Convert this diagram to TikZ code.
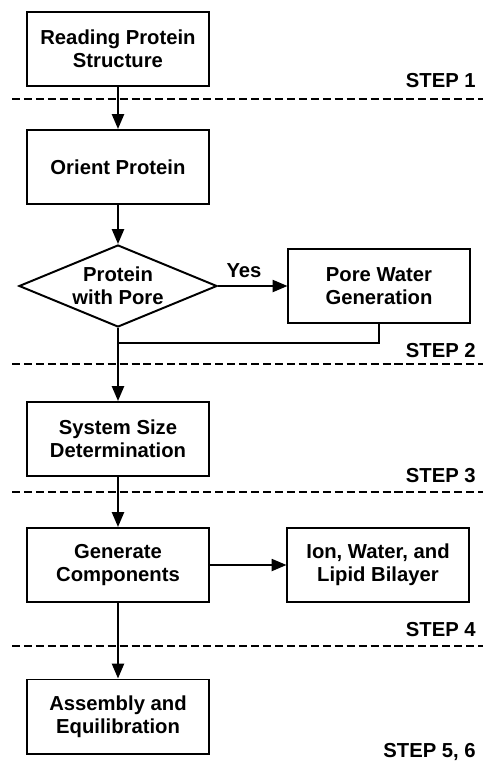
\documentclass[tikz,border=0pt]{standalone}
\usepackage{fontspec}
\setmainfont{Liberation Sans}
\usetikzlibrary{arrows.meta,shapes.geometric}

\tikzset{
  block/.style={draw,line width=1.4pt,minimum width=4.525cm,minimum height=1.85cm,align=center,inner sep=2pt},
  decision/.style={draw,line width=1.4pt,shape=diamond,aspect=2.41,inner sep=0pt,minimum width=4.95cm,minimum height=2.05cm,align=center},
  steplabel/.style={anchor=base east,inner sep=0pt},
  divider/.style={line width=1.3pt,dash pattern=on 5.7pt off 2.8pt},
  flow/.style={line width=1.4pt,-{Triangle[length=10.5pt,width=8.5pt]}}
}

\begin{document}
\begin{tikzpicture}[x=0.025cm,y=-0.025cm,font=\fontsize{14.4pt}{16.6pt}\selectfont\bfseries]%[line cap=round,line join=round]
\useasboundingbox (0,0) rectangle (483,762);
\node [block] (read) at (118,49) {Reading Protein\\Structure};
\node [block] (orient) at (118,167) {Orient Protein};
\node [decision] (pore) at (118,286) {Protein\\with Pore};
\node [block] (water) at (379,286) {Pore Water\\Generation};
\node [block] (size) at (118,439) {System Size\\Determination};
\node [block] (gen) at (118,565) {Generate\\Components};
\node [block] (ion) at (378,565) {Ion, Water, and\\Lipid Bilayer};
\node [block] (assem) at (118,716.5) {Assembly and\\Equilibration};
\node (yes) at (244,271) {Yes};
\coordinate (join) at (118,343);
\draw [divider] (12,99) -- (483,99);
\draw [divider] (12,364) -- (483,364);
\draw [divider] (12,492) -- (483,492);
\draw [divider] (12,646) -- (483,646);
\node [steplabel] (s1) at (476,88) {STEP 1};
\node [steplabel] (s2) at (476,357) {STEP 2};
\node [steplabel] (s3) at (476,482) {STEP 3};
\node [steplabel] (s4) at (476,636) {STEP 4};
\node [steplabel] (s5) at (476,757) {STEP 5, 6};
\draw [flow] (read) -- (orient);
\draw [flow] (orient) -- (pore);
\draw [flow] (pore) -- (water);
\draw [line width=1.4pt] (water.south) |- (join);
\draw [flow] (pore) -- (size);
\draw [flow] (size) -- (gen);
\draw [flow] (gen) -- (ion);
\draw [flow] (gen) -- (assem);
\end{tikzpicture}
\end{document}
